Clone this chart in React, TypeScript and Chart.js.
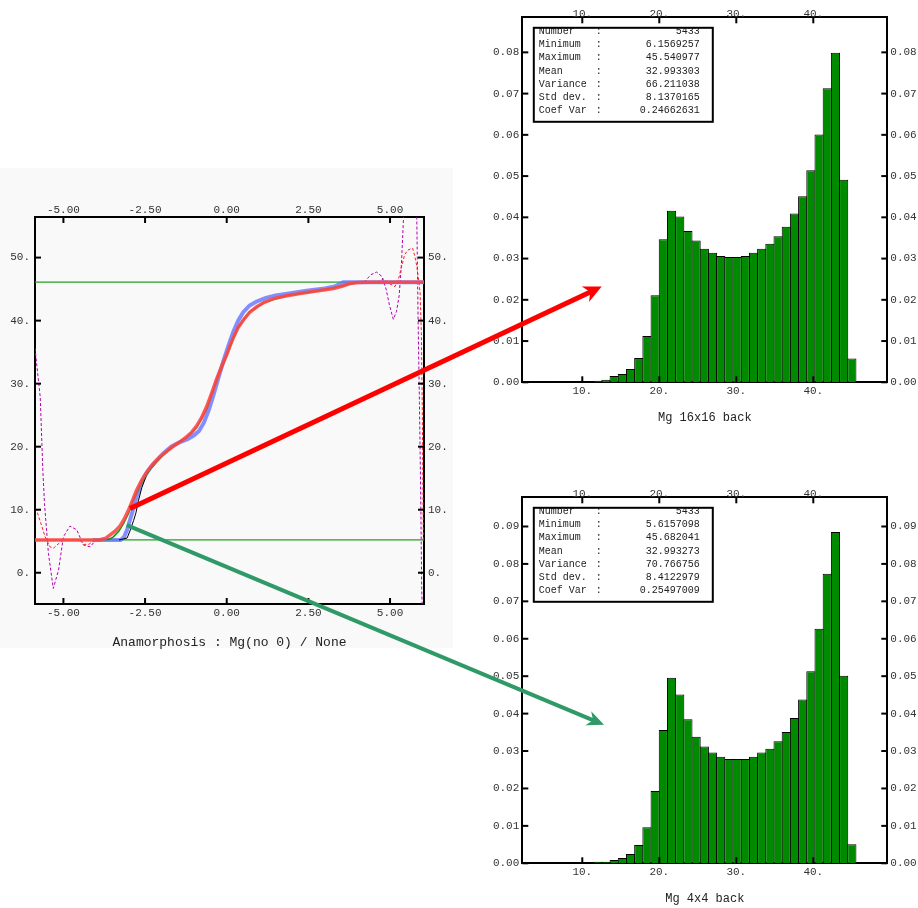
import React, { useEffect, useRef } from 'react';
import { Chart, registerables } from 'chart.js';
Chart.register(...registerables);

// ---------------- Left chart: anamorphosis ----------------
const anamXRange = [-5.87, 6.04];
const anamYRange = [-4.96, 56.44];
const anamXTicks = [-5, -2.5, 0, 2.5, 5];
const anamYTicks = [0, 10, 20, 30, 40, 50];
const anamTitle = 'Anamorphosis : Mg(no 0) / None';

const redCurveX = [-5.87, -3.9, -3.7, -3.57, -3.42, -3.27, -3.14, -3.01, -2.88, -2.76, -2.6, -2.45, -2.25, -2.04, -1.83, -1.63, -1.42, -1.22, -1.07, -0.92, -0.77, -0.61, -0.46, -0.31, -0.15, 0, 0.1, 0.2, 0.35, 0.51, 0.7, 0.92, 1.15, 1.43, 1.8, 2.24, 2.75, 3.27, 3.55, 3.78, 4.0, 4.29, 6.04];
const redCurveY = [5.2, 5.2, 5.5, 6.0, 6.6, 7.4, 8.5, 9.9, 11.5, 13.1, 14.7, 16.0, 17.3, 18.4, 19.3, 20.1, 20.8, 21.6, 22.3, 23.3, 24.6, 26.4, 28.5, 30.7, 32.8, 34.6, 36.0, 37.3, 38.9, 40.1, 41.3, 42.2, 42.9, 43.5, 43.9, 44.3, 44.7, 45.1, 45.5, 45.9, 46.05, 46.1, 46.1];

const blueCurveX = [-4.1, -3.25, -3.15, -3.05, -2.96, -2.85, -2.75, -2.65, -2.5, -2.35, -2.15, -1.95, -1.7, -1.45, -1.2, -1.0, -0.85, -0.7, -0.55, -0.4, -0.25, -0.1, 0.05, 0.2, 0.35, 0.5, 0.7, 0.9, 1.2, 1.5, 2.0, 2.5, 3.0, 3.3, 3.57, 6.04];
const blueCurveY = [5.2, 5.2, 5.6, 6.8, 8.4, 10.3, 12.2, 13.7, 15.4, 16.6, 17.8, 18.9, 20.0, 20.7, 21.2, 21.8, 22.5, 23.8, 25.8, 28.3, 31.0, 33.6, 36.0, 38.2, 40.0, 41.3, 42.4, 43.0, 43.6, 44.0, 44.4, 44.8, 45.1, 45.4, 46.1, 46.1];

const greenCurveX = [-4.0, -3.6, -3.47, -3.3, -3.16, -3.0, -2.86, -2.7, -2.55, -2.4, -2.2, -2.0, -1.63, -1.22, -0.92, -0.61, -0.31, 0, 0.35, 0.7, 1.15, 1.8, 2.75, 3.55, 4.0];
const greenCurveY = [5.2, 5.3, 5.7, 6.6, 7.8, 9.5, 11.5, 13.3, 14.8, 16.0, 17.3, 18.4, 20.1, 21.5, 23.0, 26.0, 30.5, 34.5, 39.0, 41.4, 42.9, 43.9, 44.7, 45.5, 46.1];

const blackCurveX = [-3.3, -3.05, -2.95, -2.85, -2.78, -2.7, -2.6, -2.45, -2.25, -2.0];
const blackCurveY = [5.2, 5.5, 6.8, 8.3, 9.5, 11.5, 13.5, 15.6, 17.2, 18.5];

const magentaLeftX = [-5.87, -5.71, -5.63, -5.58, -5.46, -5.31, -5.15, -5.0, -4.8, -4.59, -4.39, -4.18, -3.98, -3.8];
const magentaLeftY = [35.6, 27.9, 16.3, 11.0, 3.1, -2.5, 0.4, 5.7, 7.4, 6.8, 4.4, 4.1, 5.4, 5.2];
const magentaRightX = [4.2, 4.42, 4.59, 4.75, 4.88, 4.98, 5.1, 5.2, 5.28, 5.35, 5.41, 5.47, 5.75, 5.82, 5.86, 5.9, 5.94, 5.97, 6.0];
const magentaRightY = [46.1, 47.3, 47.7, 47.0, 45.0, 42.5, 40.2, 41.5, 44.0, 49.0, 56.0, 62.0, 62.0, 56.0, 40.0, 27.0, 12.0, -2.5, -8];

const redDashLeftX = [-5.87, -5.82, -5.7, -5.56, -5.41, -5.3, -5.2, -5.0, -4.5, -4.38, -4.22, -4.05, -3.9];
const redDashLeftY = [10.2, 9.9, 8.0, 5.7, 4.1, 3.9, 4.4, 5.2, 5.2, 4.5, 4.5, 5.2, 5.2];
const redDashRightX = [4.6, 4.8, 5.0, 5.15, 5.25, 5.35, 5.45, 5.55, 5.69, 5.76, 5.82, 5.88, 5.92, 5.96, 5.99, 6.02];
const redDashRightY = [46.1, 46.6, 45.8, 45.4, 46.4, 48.5, 50.5, 51.2, 51.5, 50.2, 48.6, 46.3, 44.4, 38.0, 25.0, 5.0];

const hLineX = [-5.87, 6.04];
const hLineTopY = [46.1, 46.1];
const hLineBottomY = [5.2, 5.2];

// ---------------- Histograms ----------------
const binStart = 6.1569257;
const binWidth = 1.0644;
const histXRange = [2.21, 49.61];
const histXTicks = [10, 20, 30, 40];
const statLabels = ['Number', 'Minimum', 'Maximum', 'Mean', 'Variance', 'Std dev.', 'Coef Var'];

const hist16Values = [0.0002, 0, 0.0002, 0.0002, 0.0001, 0.0004, 0.0006, 0.0015, 0.0020, 0.0032, 0.0059, 0.0112, 0.0211, 0.0347, 0.0416, 0.0402, 0.0367, 0.0344, 0.0324, 0.0314, 0.0306, 0.0304, 0.0304, 0.0306, 0.0314, 0.0324, 0.0336, 0.0354, 0.0377, 0.0409, 0.0451, 0.0514, 0.0601, 0.0713, 0.0799, 0.0491, 0.0058];
const hist16YRange = [0, 0.0885];
const hist16YTicks = [0, 0.01, 0.02, 0.03, 0.04, 0.05, 0.06, 0.07, 0.08];
const hist16Title = 'Mg 16x16 back';
const stat16Values = ['5433', '6.1569257', '45.540977', '32.993303', '66.211038', '8.1370165', '0.24662631'];

const hist4Values = [0, 0, 0, 0, 0.0002, 0.0004, 0.0004, 0.0009, 0.0014, 0.0025, 0.0049, 0.0096, 0.0193, 0.0356, 0.0496, 0.0451, 0.0385, 0.0338, 0.0312, 0.0296, 0.0285, 0.0279, 0.0279, 0.0279, 0.0285, 0.0296, 0.0306, 0.0326, 0.0351, 0.0388, 0.0438, 0.0513, 0.0627, 0.0774, 0.0885, 0.0501, 0.0051];
const hist4YRange = [0, 0.0978];
const hist4YTicks = [0, 0.01, 0.02, 0.03, 0.04, 0.05, 0.06, 0.07, 0.08, 0.09];
const hist4Title = 'Mg 4x4 back';
const stat4Values = ['5433', '5.6157098', '45.682041', '32.993273', '70.766756', '8.4122979', '0.25497009'];

// ---------------- Arrows (data coordinates) ----------------
const redArrowFrom = [-2.96, 10.2];   // anamorphosis chart
const redArrowTo = [12.52, 0.0232];   // 16x16 histogram
const greenArrowFrom = [-3.06, 7.56]; // anamorphosis chart
const greenArrowTo = [12.82, 0.037];  // 4x4 histogram

const FONT = '"Liberation Mono", "DejaVu Sans Mono", monospace';

function pts(xs: number[], ys: number[]) {
  return xs.map((x, i) => ({ x, y: ys[i] }));
}

function axis(position: string, range: number[], ticks: number[], fmt: (v: number) => string, size: number, pad: number, title?: any) {
  const vertical = position === 'left' || position === 'right';
  return {
    type: 'linear',
    position,
    min: range[0],
    max: range[1],
    bounds: 'data',
    offset: false,
    display: true,
    grid: { display: false, drawTicks: false, offset: false },
    border: { display: true, color: '#000', width: 2 },
    ticks: {
      padding: pad,
      color: '#333',
      autoSkip: false,
      maxRotation: 0,
      font: { family: FONT, size: 11, lineHeight: 1 },
      callback: (v: any) => fmt(Number(v)),
    },
    title: title || { display: false },
    afterBuildTicks: (s: any) => {
      s.ticks = ticks.map((v) => ({ value: v }));
    },
    afterFit: (s: any) => {
      if (vertical) s.width = size;
      else s.height = size;
    },
  };
}

const inwardTicks = {
  id: 'inwardTicks',
  afterDraw(chart: any) {
    const { ctx, chartArea: a } = chart;
    ctx.save();
    ctx.strokeStyle = '#000';
    ctx.lineWidth = 2;
    Object.values(chart.scales).forEach((s: any) => {
      (s.ticks || []).forEach((t: any) => {
        const p = s.getPixelForValue(t.value);
        ctx.beginPath();
        if (s.position === 'top') { ctx.moveTo(p, a.top); ctx.lineTo(p, a.top + 6); }
        else if (s.position === 'bottom') { ctx.moveTo(p, a.bottom); ctx.lineTo(p, a.bottom - 6); }
        else if (s.position === 'left') { ctx.moveTo(a.left, p); ctx.lineTo(a.left + 6, p); }
        else { ctx.moveTo(a.right, p); ctx.lineTo(a.right - 6, p); }
        ctx.stroke();
      });
    });
    ctx.restore();
  },
};

function statBoxPlugin(values: string[]) {
  return {
    id: 'statBox',
    afterDraw(chart: any) {
      const { ctx, chartArea: a } = chart;
      const x = a.left + 11.5, y = a.top + 10.5, w = 179, h = 94;
      ctx.save();
      ctx.fillStyle = '#fff';
      ctx.fillRect(x, y, w, h);
      ctx.beginPath();
      ctx.rect(x, y, w, h);
      ctx.clip();
      ctx.font = `10px ${FONT}`;
      ctx.fillStyle = '#222';
      ctx.textBaseline = 'middle';
      statLabels.forEach((lab, i) => {
        const ty = y + 3.5 + 13.2 * i;
        ctx.textAlign = 'left';
        ctx.fillText(lab, x + 5, ty);
        ctx.fillText(':', x + 62, ty);
        ctx.textAlign = 'right';
        ctx.fillText(values[i], x + w - 13, ty);
      });
      ctx.restore();
      ctx.save();
      ctx.strokeStyle = '#000';
      ctx.lineWidth = 2;
      ctx.strokeRect(x, y, w, h);
      ctx.restore();
    },
  };
}

function line(xs: number[], ys: number[], color: string, width: number, dash: number[] = []) {
  return {
    data: pts(xs, ys),
    showLine: true,
    borderColor: color,
    backgroundColor: color,
    borderWidth: width,
    borderDash: dash,
    pointRadius: 0,
    tension: 0,
    fill: false,
  };
}

function leftConfig(): any {
  const fx = (v: number) => v.toFixed(2);
  const fy = (v: number) => `${v}.`;
  return {
    type: 'scatter',
    data: {
      datasets: [
        line(redCurveX, redCurveY, 'rgba(255,70,70,0.9)', 3.5),
        line(greenCurveX, greenCurveY, '#009900', 1.5),
        line(blackCurveX, blackCurveY, '#000000', 1),
        line(blueCurveX, blueCurveY, 'rgba(100,115,255,0.8)', 4),
        line(redDashLeftX, redDashLeftY, '#ff2020', 1, [3, 2]),
        line(redDashRightX, redDashRightY, '#ff2020', 1, [3, 2]),
        line(magentaLeftX, magentaLeftY, '#b000b0', 1, [3, 2]),
        line(magentaRightX, magentaRightY, '#b000b0', 1, [3, 2]),
        line(hLineX, hLineTopY, '#22a022', 1.2),
        line(hLineX, hLineBottomY, '#22a022', 1.2),
      ],
    },
    options: {
      responsive: false,
      animation: false,
      devicePixelRatio: 1,
      layout: { padding: 0 },
      plugins: { legend: { display: false }, tooltip: { enabled: false } },
      scales: {
        x: axis('bottom', anamXRange, anamXTicks, fx, 53, 4, {
          display: true, text: anamTitle, color: '#222',
          font: { family: FONT, size: 13, lineHeight: 1 }, padding: { top: 0, bottom: 7.5 },
        }),
        x2: axis('top', anamXRange, anamXTicks, fx, 49, 1),
        y: axis('left', anamYRange, anamYTicks, fy, 35, 5),
        y2: axis('right', anamYRange, anamYTicks, fy, 29, 4),
      },
    },
    plugins: [inwardTicks],
  };
}

function histConfig(values: number[], yRange: number[], yTicks: number[], title: string, titlePad: number, stats: string[], bottomSize: number): any {
  const fx = (v: number) => `${v}.`;
  const fy = (v: number) => v.toFixed(2);
  return {
    type: 'bar',
    data: {
      datasets: [
        {
          data: values.map((v, i) => ({ x: binStart + (i + 0.5) * binWidth, y: v })),
          backgroundColor: '#008a00',
          borderColor: '#000000',
          borderWidth: 1,
          borderSkipped: 'bottom',
          barPercentage: 1.12,
          categoryPercentage: 1,
          inflateAmount: 0,
        },
      ],
    },
    options: {
      responsive: false,
      animation: false,
      devicePixelRatio: 1,
      layout: { padding: 0 },
      plugins: { legend: { display: false }, tooltip: { enabled: false } },
      scales: {
        x: axis('bottom', histXRange, histXTicks, fx, bottomSize, 3, {
          display: true, text: title, color: '#222',
          font: { family: FONT, size: 12, lineHeight: 1 }, padding: { top: 0, bottom: titlePad },
        }),
        x2: axis('top', histXRange, histXTicks, fx, 17.3, -2),
        y: axis('left', yRange, yTicks, fy, 42.3, 3),
        y2: axis('right', yRange, yTicks, fy, 30.7, 3),
      },
    },
    plugins: [inwardTicks, statBoxPlugin(stats)],
  };
}

function drawArrow(ctx: CanvasRenderingContext2D, x0: number, y0: number, x1: number, y1: number, color: string, width: number, headLen: number, headHalf: number) {
  const ang = Math.atan2(y1 - y0, x1 - x0);
  const c = Math.cos(ang), s = Math.sin(ang);
  ctx.save();
  ctx.strokeStyle = color;
  ctx.fillStyle = color;
  ctx.lineWidth = width;
  ctx.beginPath();
  ctx.moveTo(x0, y0);
  ctx.lineTo(x1 - headLen * 0.6 * c, y1 - headLen * 0.6 * s);
  ctx.stroke();
  const bx = x1 - headLen * c, by = y1 - headLen * s;
  const nx = x1 - headLen * 0.7 * c, ny = y1 - headLen * 0.7 * s;
  ctx.beginPath();
  ctx.moveTo(x1, y1);
  ctx.lineTo(bx - headHalf * s, by + headHalf * c);
  ctx.lineTo(nx, ny);
  ctx.lineTo(bx + headHalf * s, by - headHalf * c);
  ctx.closePath();
  ctx.fill();
  ctx.restore();
}

const LEFT_POS = [0, 168];
const TOP_POS = [480, 0];
const BOT_POS = [480, 480];

export default function App() {
  const leftRef = useRef<HTMLCanvasElement>(null);
  const topRef = useRef<HTMLCanvasElement>(null);
  const botRef = useRef<HTMLCanvasElement>(null);
  const overRef = useRef<HTMLCanvasElement>(null);

  useEffect(() => {
    const left = new Chart(leftRef.current!, leftConfig());
    const top = new Chart(topRef.current!, histConfig(hist16Values, hist16YRange, hist16YTicks, hist16Title, 6, stat16Values, 47.7));
    const bot = new Chart(botRef.current!, histConfig(hist4Values, hist4YRange, hist4YTicks, hist4Title, 3, stat4Values, 44.7));

    const ctx = overRef.current!.getContext('2d')!;
    ctx.clearRect(0, 0, 918, 908);
    const toPage = (ch: any, pos: number[], p: number[]) => [
      pos[0] + ch.scales.x.getPixelForValue(p[0]),
      pos[1] + ch.scales.y.getPixelForValue(p[1]),
    ];
    const r0 = toPage(left, LEFT_POS, redArrowFrom);
    const r1 = toPage(top, TOP_POS, redArrowTo);
    const g0 = toPage(left, LEFT_POS, greenArrowFrom);
    const g1 = toPage(bot, BOT_POS, greenArrowTo);
    drawArrow(ctx, g0[0], g0[1], g1[0], g1[1], '#2f9a68', 4, 17, 7.5);
    drawArrow(ctx, r0[0], r0[1], r1[0], r1[1], '#ff0000', 5, 18, 8.5);

    return () => {
      left.destroy();
      top.destroy();
      bot.destroy();
    };
  }, []);

  return (
    <div style={{ position: 'fixed', left: 0, top: 0, width: 918, height: 908, background: '#fff', overflow: 'hidden' }}>
      <div style={{ position: 'absolute', left: 0, top: 168, width: 453, height: 480, background: '#f9f9f9' }} />
      <canvas ref={leftRef} width={453} height={489} style={{ position: 'absolute', left: LEFT_POS[0], top: LEFT_POS[1] }} />
      <canvas ref={topRef} width={438} height={430} style={{ position: 'absolute', left: TOP_POS[0], top: TOP_POS[1] }} />
      <canvas ref={botRef} width={438} height={428} style={{ position: 'absolute', left: BOT_POS[0], top: BOT_POS[1] }} />
      <canvas ref={overRef} width={918} height={908} style={{ position: 'absolute', left: 0, top: 0, pointerEvents: 'none' }} />
    </div>
  );
}
